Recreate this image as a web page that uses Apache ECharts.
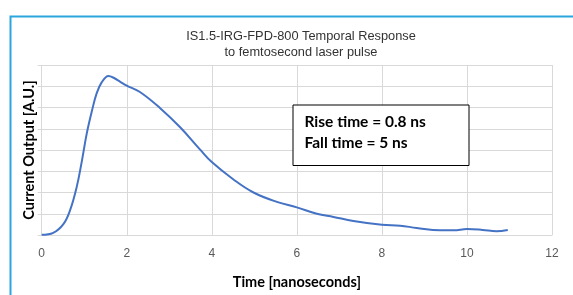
<!DOCTYPE html>
<html>
<head>
<meta charset="utf-8">
<script src="https://cdn.jsdelivr.net/npm/echarts@6/dist/echarts.min.js"></script>
<style>
  html, body { margin: 0; padding: 0; background: #fff; }
  #chart { width: 573px; height: 295px; }
</style>
</head>
<body>
<div id="chart"></div>
<script>
// time in ns, response in grid units (arbitrary)
const times = [0, 0.27, 0.51, 0.67, 0.82, 0.94, 1.06, 1.18, 1.29, 1.41, 1.57, 1.69, 1.84, 2.0, 2.31, 2.78, 3.25, 3.72, 4.0, 4.51, 4.98, 5.53, 6.0, 6.47, 6.86, 7.33, 8.0, 8.43, 8.82, 9.37, 9.69, 10.0, 10.37, 10.69, 10.96]
const response = [0.01, 0.1, 0.51, 1.18, 2.23, 3.43, 4.78, 5.83, 6.65, 7.18, 7.48, 7.4, 7.22, 7.03, 6.73, 5.98, 5.08, 4.03, 3.43, 2.61, 2.0, 1.56, 1.3, 1.0, 0.85, 0.66, 0.48, 0.44, 0.33, 0.22, 0.22, 0.28, 0.24, 0.18, 0.24]
const xTicks = [0, 2, 4, 6, 8, 10, 12]
const titleLines = ['IS1.5-IRG-FPD-800 Temporal Response', 'to femtosecond laser pulse']
const noteLines = ['Rise time = 0.8 ns', 'Fall time = 5 ns']

const chart = echarts.init(document.getElementById('chart'))

const gridColor = '#d9d9d9'

chart.setOption({
  animation: false,
  title: {
    text: titleLines.join('\n'),
    left: 296,
    top: 24,
    textAlign: 'center',
    textStyle: {
      fontFamily: 'Liberation Sans',
      fontSize: 12.8,
      fontWeight: 'normal',
      color: '#333',
      lineHeight: 15.5,
    },
  },
  grid: { left: 41.7, right: 21, top: 65, bottom: 52 },
  xAxis: {
    type: 'value',
    min: 0,
    max: 12,
    interval: 2,
    name: 'Time [nanoseconds]',
    nameLocation: 'middle',
    nameGap: 40,
    nameTextStyle: { fontFamily: 'Lato', fontWeight: 'bold', fontSize: 14.5, color: '#000' },
    axisLine: { show: true, lineStyle: { color: gridColor } },
    axisTick: { show: false },
    axisLabel: {
      fontFamily: 'Liberation Sans',
      fontSize: 12,
      color: '#595959',
      margin: 13,
      formatter: v => (xTicks.includes(v) ? String(v) : ''),
    },
    splitLine: { show: true, lineStyle: { color: gridColor } },
  },
  yAxis: {
    type: 'value',
    min: 0,
    max: 8,
    interval: 1,
    name: 'Current Output [A.U.]',
    nameLocation: 'middle',
    nameGap: 5,
    nameTextStyle: { fontFamily: 'Lato', fontWeight: 'bold', fontSize: 14.5, color: '#000' },
    axisLine: { show: false },
    axisTick: { show: true, length: 4, lineStyle: { color: gridColor } },
    axisLabel: { show: false },
    splitLine: { show: true, lineStyle: { color: gridColor } },
  },
  graphic: [
    {
      type: 'rect',
      left: 8,
      top: 14,
      shape: { width: 620, height: 320 },
      style: { fill: 'none', stroke: '#2aa5de', lineWidth: 2 },
      silent: true,
    },
    {
      type: 'group',
      left: 292.5,
      top: 104.5,
      z: 100,
      children: [
        {
          type: 'rect',
          z: 100,
          shape: { x: 0, y: 0, width: 176, height: 60.5 },
          style: { fill: '#fff', stroke: '#000', lineWidth: 1 },
        },
        {
          type: 'text',
          z: 101,
          left: 11.5,
          top: 6.5,
          style: {
            text: noteLines.join('\n'),
            font: 'bold 15.5px Lato',
            lineHeight: 20.7,
            fill: '#000',
          },
        },
      ],
    },
  ],
  series: [
    {
      type: 'line',
      data: times.map((t, i) => [t, response[i]]),
      smooth: 0.4,
      symbol: 'none',
      lineStyle: { color: '#4472c4', width: 2 },
      z: 3,
    },
  ],
})
</script>
</body>
</html>
